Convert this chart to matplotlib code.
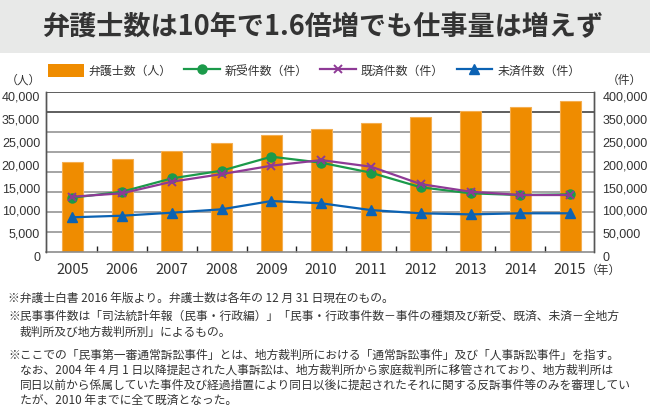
import matplotlib
matplotlib.use("Agg")
import matplotlib.pyplot as plt
import matplotlib.transforms as mtransforms
from matplotlib.patches import Rectangle, Patch
from matplotlib.lines import Line2D
import numpy as np

plt.rcParams['font.family'] = ['Noto Sans CJK JP', 'DejaVu Sans']

# ---- data ----
years = ['2005', '2006', '2007', '2008', '2009', '2010', '2011', '2012', '2013', '2014', '2015']
lawyers = [22500, 23300, 25170, 27170, 29170, 30580, 32080, 33580, 35170, 36250, 37670]
new_cases = [135000, 150000, 183300, 202500, 237500, 222500, 197500, 161000, 146000, 141700, 143300]
disposed = [137500, 146000, 175000, 194000, 215000, 229000, 212500, 169000, 150000, 141700, 141700]
pending = [86000, 90000, 97500, 106000, 126700, 121000, 104000, 96000, 93300, 96000, 96000]

left_labels = ['0', '5,000', '10,000', '15,000', '20,000', '25,000', '35,000', '40,000']
right_labels = ['0', '50,000', '100,000', '150,000', '200,000', '250,000', '350,000', '400,000']

series_names = ['弁護士数（人）', '新受件数（件）', '既済件数（件）', '未済件数（件）']
title = '弁護士数は10年で1.6倍増でも仕事量は増えず'
notes = [
    (8, 298.7, '※弁護士白書 2016 年版より。弁護士数は各年の 12 月 31 日現在のもの。'),
    (8, 316.5, '※民事事件数は「司法統計年報（民事・行政編）」「民事・行政事件数－事件の種類及び新受、既済、未済－全地方'),
    (20, 332.0, '裁判所及び地方裁判所別」によるもの。'),
    (8, 354.7, '※ここでの「民事第一審通常訴訟事件」とは、地方裁判所における「通常訴訟事件」及び「人事訴訟事件」を指す。'),
    (20, 370.5, 'なお、2004 年 4 月 1 日以降提起された人事訴訟は、地方裁判所から家庭裁判所に移管されており、地方裁判所は'),
    (20, 385.5, '同日以前から係属していた事件及び経過措置により同日以後に提起されたそれに関する反訴事件等のみを審理してい'),
    (20, 400.5, 'たが、2010 年までに全て既済となった。'),
]

# ---- colours ----
ORANGE = '#EF8C00'
GREEN = '#1B9A4A'
PURPLE = '#8E3A96'
BLUE = '#0B62B3'
TEXT = '#333333'
NUM_FONT = ['Liberation Sans', 'DejaVu Sans']

W, H = 650, 420
fig = plt.figure(figsize=(W / 100, H / 100), dpi=100)
fig.patch.set_facecolor('white')

def fx(x):
    return x / W

def fy(y):
    return 1 - y / H

# title banner
fig.patches.append(Rectangle((0, fy(53)), 1, 53 / H, transform=fig.transFigure,
                             facecolor='#E8E9E8', edgecolor='none', zorder=0))
fig.text(fx(324), fy(27), title, ha='center', va='center', fontsize=19.5,
         fontweight='bold', color=TEXT)

# axes
x0, x1, y0, y1 = 45.7, 594, 91.7, 251.7
ax = fig.add_axes([fx(x0), fy(y1), (x1 - x0) / W, (y1 - y0) / H])
ax2 = ax.twinx()

x = np.arange(len(years))
ax.bar(x, lawyers, width=0.42, color=ORANGE, edgecolor='#F4AE50', linewidth=0.8, zorder=2)
ax.set_ylim(0, 40000)
ax.set_xlim(-0.535, len(years) - 1 + 0.48)

# grid lines
for v in np.arange(5000, 40001, 5000):
    c = '#333333' if v >= 35000 else '#8C8C8C'
    ax.axhline(v, color=c, linewidth=1.1, zorder=1)

ax.spines['top'].set_visible(False)
ax2.spines['top'].set_visible(False)
ax.spines['bottom'].set_color('#8C8C8C')
ax.spines['bottom'].set_linewidth(1.2)
ax2.spines['bottom'].set_visible(False)
for a in (ax, ax2):
    a.spines['left'].set_color('#555555')
    a.spines['right'].set_color('#555555')
    a.spines['left'].set_linewidth(1.0)
    a.spines['right'].set_linewidth(1.0)

# x ticks
ax.set_xticks(x)
ax.set_xticklabels(years, fontsize=10.5, color=TEXT)
ax.tick_params(axis='x', which='major', length=0, pad=8)
ax.set_xticks(x[:-1] + 0.5, minor=True)
ax.tick_params(axis='x', which='minor', direction='in', length=4, width=1, color='#222222')

# y ticks (evenly spread labels as in reference)
offset = mtransforms.ScaledTranslation(0, -0.045, fig.dpi_scale_trans)
ax.set_yticks(np.linspace(0, 40000, len(left_labels)))
ax.set_yticklabels(left_labels, fontsize=9, color=TEXT, family=NUM_FONT)
ax.tick_params(axis='y', length=0, pad=4)
for lab in ax.get_yticklabels():
    lab.set_transform(lab.get_transform() + offset)

ax2.set_ylim(0, 400000)
ax2.set_yticks(np.linspace(0, 400000, len(right_labels)))
ax2.set_yticklabels(right_labels, fontsize=9, color=TEXT, family=NUM_FONT)
ax2.tick_params(axis='y', length=0, pad=6)
for lab in ax2.get_yticklabels():
    lab.set_transform(lab.get_transform() + offset)

# lines
ax2.plot(x, new_cases, color=GREEN, linewidth=1.6, marker='o', markersize=6.5, zorder=4)
ax2.plot(x, disposed, color=PURPLE, linewidth=1.6, marker='x', markersize=6, markeredgewidth=1.4, zorder=5)
ax2.plot(x, pending, color=BLUE, linewidth=1.6, marker='^', markersize=7, zorder=4)
ax2.set_zorder(ax.get_zorder() + 1)
ax2.patch.set_visible(False)

# legend
handles = [
    Patch(facecolor=ORANGE, edgecolor='none'),
    Line2D([], [], color=GREEN, linewidth=1.6, marker='o', markersize=6.5),
    Line2D([], [], color=PURPLE, linewidth=1.6, marker='x', markersize=6, markeredgewidth=1.4),
    Line2D([], [], color=BLUE, linewidth=1.6, marker='^', markersize=7),
]
leg = fig.legend(handles, series_names, loc='center', bbox_to_anchor=(fx(314), fy(71)),
                 ncol=4, frameon=False, fontsize=8.6, handlelength=3.0, handleheight=1.3,
                 handletextpad=0.4, columnspacing=1.05, borderaxespad=0, borderpad=0)
for t in leg.get_texts():
    t.set_color(TEXT)

# unit labels
fig.text(fx(23), fy(80), '（人）', ha='center', va='center', fontsize=8.5, color=TEXT)
fig.text(fx(624), fy(80), '（件）', ha='center', va='center', fontsize=8.5, color=TEXT)
fig.text(fx(603), fy(270), '（年）', ha='center', va='center', fontsize=8.5, color=TEXT)

# notes
for nx, ny, s in notes:
    fig.text(fx(nx), fy(ny), s, ha='left', va='center', fontsize=8.5, color=TEXT)

fig.savefig('out.png', dpi=100)
